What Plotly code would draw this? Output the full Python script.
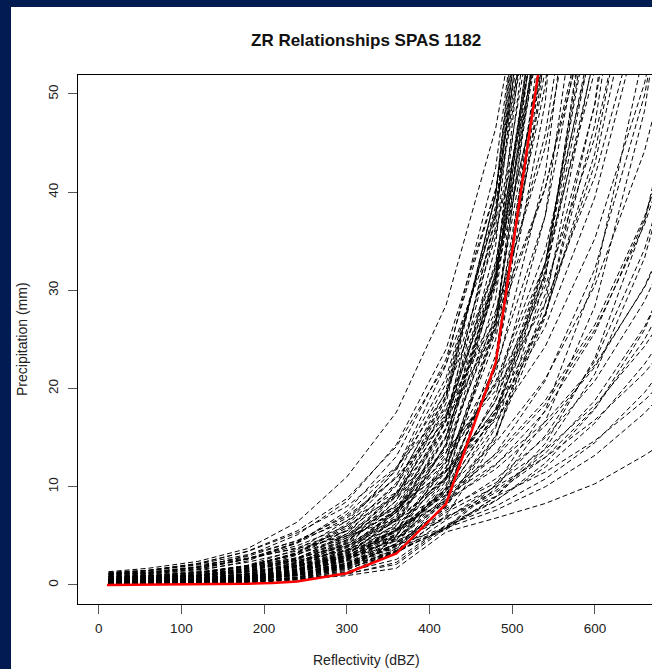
import plotly.graph_objects as go

# ---------------- data ----------------
x_points = [12, 60, 120, 180, 240, 300, 360, 420, 480, 540, 600, 660, 720]

curve_values = [
    # upper, steep early
    [1.35, 1.7, 2.4, 3.7, 6.4, 11.0, 17.6, 28.5, 46.5, 75, 121, 196, 317],
    [1.15, 1.3, 1.8, 3.0, 5.1, 8.5, 14.3, 24.0, 40.3, 67.7, 114, 190, 320],
    [0.95, 1.05, 1.4, 2.45, 4.3, 7.5, 13.1, 23.0, 40.2, 70.4, 123, 215, 377],
    [1.1, 1.2, 1.66, 2.66, 4.25, 6.8, 10.9, 17.4, 27.9, 44.6, 71.3, 114, 183],
    [0.65, 0.7, 0.95, 1.75, 3.24, 6.0, 11.1, 20.5, 38.0, 70.3, 130, 240, 445],
    [1.05, 1.15, 1.6, 2.64, 4.36, 7.2, 11.9, 19.6, 32.3, 53.4, 88, 145, 240],
    [1.3, 1.5, 2.15, 3.44, 5.5, 8.8, 14.1, 22.5, 36.0, 57.7, 92.3, 148, 236],
    # dense core
    [0.6, 0.7, 0.9, 1.37, 2.67, 5.2, 10.1, 19.8, 38.6, 75.2, 147, 286, 558],
    [0.4, 0.45, 0.6, 1.09, 2.24, 4.6, 9.4, 19.3, 39.6, 81.3, 167, 342, 700],
    [0.3, 0.35, 0.5, 0.87, 1.86, 4.0, 8.6, 18.5, 39.8, 85.5, 184, 395, 850],
    [0.3, 0.35, 0.45, 0.72, 1.59, 3.5, 7.7, 16.9, 37.3, 82, 180, 396, 871],
    [0.2, 0.25, 0.35, 0.57, 1.3, 3.0, 6.9, 15.9, 36.5, 84, 193, 444, 1020],
    [0.15, 0.2, 0.25, 0.43, 1.04, 2.5, 6.0, 14.4, 34.6, 83, 199, 478, 1147],
    [0.1, 0.15, 0.2, 0.32, 0.8, 2.0, 5.0, 12.5, 31.3, 78, 195, 488, 1220],
    [0.55, 0.6, 0.75, 1.1, 2.15, 4.2, 8.2, 16.0, 31.2, 60.8, 119, 231, 451],
    [0.35, 0.4, 0.5, 0.76, 1.56, 3.2, 6.6, 13.4, 27.6, 56.5, 116, 238, 487],
    [0.2, 0.25, 0.35, 0.56, 1.21, 2.6, 5.6, 12.0, 25.8, 55.6, 119, 257, 552],
    [0.08, 0.12, 0.2, 0.33, 0.77, 1.8, 4.2, 9.9, 23.4, 55, 129, 303, 713],
    [0.05, 0.1, 0.15, 0.25, 0.61, 1.5, 3.7, 9.0, 22.1, 54, 132, 324, 794],
    [0.8, 0.85, 1.0, 1.64, 3.03, 5.6, 10.4, 19.2, 35.5, 65.6, 121, 225, 416],
    [0.45, 0.5, 0.6, 0.95, 1.9, 3.8, 7.6, 15.2, 30.4, 60.8, 122, 243, 486],
    [0.25, 0.28, 0.35, 0.55, 1.24, 2.8, 6.3, 14.2, 31.9, 71.8, 162, 363, 817],
    [0.2, 0.22, 0.3, 0.42, 0.96, 2.2, 5.06, 11.6, 26.8, 61.6, 142, 326, 750],
    [0.9, 0.95, 1.2, 2.0, 3.6, 6.5, 11.7, 21.1, 37.9, 68.2, 123, 221, 398],
    [0.6, 0.65, 0.8, 1.33, 2.53, 4.8, 9.1, 17.3, 32.9, 62.6, 119, 226, 429],
    [0.28, 0.32, 0.45, 0.77, 1.62, 3.4, 7.1, 15.0, 31.5, 66.1, 139, 292, 613],
    [0.04, 0.06, 0.1, 0.2, 0.5, 1.3, 3.4, 8.8, 22.8, 59, 154, 400, 1040],
    [0.38, 0.42, 0.55, 0.86, 1.76, 3.6, 7.38, 15.1, 31.0, 63.6, 130, 267, 548],
    [0.5, 0.58, 0.75, 1.16, 2.26, 4.4, 8.58, 16.7, 32.6, 63.6, 124, 242, 472],
    [0.18, 0.22, 0.3, 0.45, 1.04, 2.4, 5.52, 12.7, 29.2, 67.2, 155, 356, 818],
    [0.28, 0.32, 0.42, 0.67, 1.44, 3.1, 6.67, 14.3, 30.8, 66.3, 143, 307, 660],
    [0.68, 0.72, 0.9, 1.46, 2.7, 5.0, 9.25, 17.1, 31.7, 58.6, 108, 201, 371],
    [0.1, 0.14, 0.2, 0.33, 0.79, 1.9, 4.56, 10.9, 26.3, 63.0, 151, 363, 871],
    [0.26, 0.3, 0.4, 0.61, 1.29, 2.7, 5.67, 11.9, 25.0, 52.5, 110, 232, 486],
    [0.44, 0.48, 0.6, 0.97, 2.05, 4.3, 9.03, 19.0, 39.8, 83.6, 176, 369, 775],
    [0.27, 0.3, 0.4, 0.65, 1.47, 3.3, 7.43, 16.7, 37.6, 84.6, 190, 428, 963],
    [0.85, 0.9, 1.1, 1.89, 3.31, 5.8, 10.2, 17.8, 31.1, 54.4, 95.2, 167, 292],
    [0.16, 0.2, 0.28, 0.43, 0.95, 2.1, 4.62, 10.2, 22.4, 49.2, 108, 238, 524],
    [0.78, 0.85, 1.0, 1.72, 3.26, 6.2, 11.8, 22.4, 42.5, 80.8, 154, 292, 555],
    [0.5, 0.55, 0.7, 1.08, 2.05, 3.9, 7.41, 14.1, 26.8, 50.9, 96.7, 184, 349],
    [0.07, 0.1, 0.15, 0.27, 0.68, 1.7, 4.25, 10.6, 26.6, 66.4, 166, 415, 1038],
    [0.33, 0.38, 0.5, 0.76, 1.49, 2.9, 5.66, 11.0, 21.5, 41.9, 81.8, 160, 311],
    # medium growth
    [1.2, 1.5, 2.2, 3.4, 5.3, 8.0, 12.0, 18.0, 27.0, 40.5, 60.8, 91, 137],
    [1.1, 1.3, 1.88, 2.91, 4.52, 7.0, 10.9, 16.8, 26.1, 40.4, 62.6, 97, 150],
    [1.05, 1.2, 1.78, 2.67, 4.0, 6.0, 9.0, 13.5, 20.3, 30.4, 45.6, 68.3, 102],
    [0.85, 0.95, 1.22, 1.95, 3.13, 5.0, 8.0, 12.8, 20.5, 32.8, 52.4, 84, 134],
    [0.65, 0.7, 0.92, 1.56, 2.65, 4.5, 7.65, 13.0, 22.1, 37.6, 63.9, 109, 185],
    [1.1, 1.25, 1.81, 2.62, 3.79, 5.5, 8.0, 11.6, 16.8, 24.3, 35.3, 51.1, 74],
    [0.6, 0.7, 0.9, 1.47, 2.42, 4.0, 6.6, 10.9, 18.0, 29.6, 48.9, 80.7, 133],
    [0.45, 0.5, 0.7, 1.14, 2.0, 3.5, 6.1, 10.7, 18.8, 32.8, 57.4, 100, 176],
    [0.35, 0.4, 0.55, 0.93, 1.67, 3.0, 5.4, 9.7, 17.5, 31.5, 56.7, 102, 184],
    [0.85, 0.95, 1.3, 2.0, 3.1, 4.8, 7.4, 11.5, 17.9, 27.7, 42.9, 66.5, 103],
    [0.25, 0.3, 0.4, 0.69, 1.32, 2.5, 4.75, 9.0, 17.1, 32.6, 61.9, 118, 223],
    [0.15, 0.2, 0.3, 0.5, 1.0, 2.0, 4.0, 8.0, 16.0, 32.0, 64, 128, 256],
    [0.55, 0.6, 0.8, 1.31, 2.24, 3.8, 6.5, 11.0, 18.7, 31.7, 54, 91.8, 156],
    [0.1, 0.14, 0.2, 0.36, 0.76, 1.6, 3.36, 7.06, 14.8, 31.1, 65.4, 137, 288],
    [0.32, 0.38, 0.5, 0.82, 1.51, 2.8, 5.18, 9.58, 17.7, 32.8, 60.7, 112, 208],
    [0.7, 0.8, 1.12, 1.9, 3.24, 5.5, 9.35, 15.9, 27.0, 45.9, 78, 133, 226],
    [0.25, 0.3, 0.4, 0.68, 1.33, 2.6, 5.07, 9.89, 19.3, 37.6, 73.3, 143, 279],
    [0.72, 0.8, 1.0, 1.64, 2.63, 4.2, 6.72, 10.8, 17.2, 27.5, 44.0, 70.5, 113],
    [0.45, 0.5, 0.68, 1.14, 1.94, 3.3, 5.61, 9.54, 16.2, 27.6, 46.9, 79.7, 135],
    [0.95, 1.1, 1.54, 2.31, 3.47, 5.2, 7.8, 11.7, 17.6, 26.3, 39.5, 59.2, 88.8],
    [0.33, 0.38, 0.5, 0.8, 1.44, 2.6, 4.68, 8.42, 15.2, 27.3, 49.1, 88.4, 159],
    [1.2, 1.4, 2.13, 3.09, 4.48, 6.5, 9.43, 13.7, 19.8, 28.7, 41.6, 60.4, 87.5],
    [0.24, 0.28, 0.38, 0.61, 1.16, 2.2, 4.18, 7.94, 15.1, 28.7, 54.5, 104, 197],
    [0.62, 0.7, 0.97, 1.5, 2.32, 3.6, 5.58, 8.65, 13.4, 20.8, 32.2, 49.9, 77.4],
    [0.72, 0.8, 1.02, 1.69, 2.79, 4.6, 7.59, 12.5, 20.7, 34.1, 56.3, 92.9, 153],
    # slow growth
    [0.8, 0.9, 1.31, 1.9, 2.76, 4.0, 5.8, 8.4, 12.2, 17.7, 25.7, 37.2, 54],
    [0.55, 0.65, 0.9, 1.33, 2.0, 3.0, 4.5, 6.75, 10.1, 15.2, 22.8, 34.2, 51.3],
    [0.3, 0.38, 0.55, 0.86, 1.38, 2.2, 3.52, 5.63, 9.0, 14.4, 23.1, 37, 59],
    [0.22, 0.28, 0.41, 0.69, 1.18, 2.0, 3.4, 5.78, 9.83, 16.7, 28.4, 48.3, 82],
    [0.85, 0.95, 1.28, 1.79, 2.5, 3.5, 4.9, 6.86, 9.6, 13.4, 18.8, 26.3, 36.9],
    [0.55, 0.65, 0.92, 1.33, 1.93, 2.8, 4.06, 5.89, 8.54, 12.4, 17.9, 26.0, 37.7],
    [0.18, 0.22, 0.36, 0.62, 1.09, 1.9, 3.33, 5.82, 10.2, 17.8, 31.2, 54.6, 95.5],
    [0.4, 0.45, 0.65, 1.0, 1.55, 2.4, 3.72, 5.77, 8.94, 13.9, 21.5, 33.3, 51.6],
    [1.2, 1.45, 2.03, 2.74, 3.7, 5.0, 6.75, 9.1, 12.3, 16.6, 22.4, 30.3, 40.9],
    [0.1, 0.15, 0.3, 0.55, 1.0, 1.8, 3.5, 7.0, 9.0, 11.5, 14.7, 18.8, 24.0],
    [0.15, 0.2, 0.35, 0.65, 1.2, 2.2, 4.2, 7.8, 10.4, 13.8, 18.3, 24.3, 32],
    [0.2, 0.25, 0.45, 0.8, 1.4, 2.6, 4.8, 8.6, 11.8, 16.2, 22.2, 30.4, 41.7],
    [0.25, 0.3, 0.5, 0.85, 1.5, 2.8, 5.2, 9.4, 13.3, 18.8, 26.5, 37.5, 53],
    [0.12, 0.18, 0.3, 0.55, 1.05, 2.0, 3.9, 7.4, 10.0, 13.0, 16.8, 21.6, 27.8],
    [0.15, 0.2, 0.35, 0.6, 1.1, 2.1, 4.0, 7.6, 10.8, 15.0, 20.8, 28.9, 40],
    [0.3, 0.35, 0.55, 0.9, 1.6, 3.0, 5.5, 9.8, 14.5, 21.0, 30.5, 44.2, 64],
    [0.12, 0.16, 0.28, 0.5, 0.95, 1.7, 3.2, 6.6, 9.4, 13.0, 18.0, 25.0, 34.5],
    [0.4, 0.5, 0.7, 1.1, 1.8, 3.2, 5.6, 9.2, 13.0, 18.4, 26.0, 36.7, 52],
    [0.06, 0.1, 0.18, 0.33, 0.6, 1.1, 2.3, 6.0, 8.0, 10.8, 14.5, 19.6, 26.4],
    # lowest
    [0.05, 0.08, 0.15, 0.3, 0.55, 0.95, 1.7, 5.4, 6.8, 8.3, 10.3, 13.2, 16.5],
    [0.08, 0.1, 0.2, 0.35, 0.65, 1.15, 2.1, 5.8, 7.6, 10.0, 13.2, 17.5, 23],
    [0.1, 0.12, 0.22, 0.4, 0.75, 1.35, 2.6, 6.1, 8.6, 12.0, 16.5, 22.5, 30],
]

red_x = [10, 120, 180, 210, 240, 300, 360, 420, 480, 540]
red_y = [0.0, 0.04, 0.12, 0.2, 0.35, 1.2, 3.2, 8.25, 22.6, 57]

x_ticks = [0, 100, 200, 300, 400, 500, 600]
y_ticks = [0, 10, 20, 30, 40, 50]

title_text = "ZR Relationships SPAS 1182"
x_title = "Reflectivity (dBZ)"
y_title = "Precipitation (mm)"

# ---------------- figure ----------------
W, H = 652, 669
L, R, T, B = 78, 0, 75, 65
pw, ph = W - L - R, H - T - B

def px_x(p):
    return (p - L) / pw

def px_y(p):
    return (H - B - p) / ph

FONT = "Liberation Sans, Arial, Helvetica, sans-serif"
NAVY = "#021c52"

fig = go.Figure()
for vals in curve_values:
    fig.add_trace(go.Scatter(
        x=x_points, y=vals, mode="lines",
        line=dict(color="black", width=1, dash="5px,3px"),
        hoverinfo="skip", showlegend=False))

fig.add_trace(go.Scatter(
    x=red_x, y=red_y, mode="lines",
    line=dict(color="#ff0000", width=2.5),
    hoverinfo="skip", showlegend=False))

fig.update_layout(
    width=W, height=H,
    margin=dict(l=L, r=R, t=T, b=B, pad=0),
    paper_bgcolor="white", plot_bgcolor="white",
    showlegend=False,
    font=dict(family=FONT, size=13, color="#222"),
    xaxis=dict(range=[-25, 669], tickvals=x_ticks, ticks="outside",
               ticklen=9, tickcolor="#555", tickwidth=1,
               showline=True, linecolor="black", linewidth=1, mirror=True,
               showgrid=False, zeroline=False, ticklabelstandoff=3,
               tickfont=dict(size=13.5, color="#222")),
    yaxis=dict(range=[-1.94, 51.93], tickvals=y_ticks, ticks="outside",
               ticklen=9, tickcolor="#555", tickwidth=1,
               showline=True, linecolor="black", linewidth=1, mirror=False,
               showgrid=False, zeroline=False, tickangle=-90,
               ticklabelstandoff=5,
               tickfont=dict(size=13.5, color="#222")),
    shapes=[
        dict(type="rect", xref="paper", yref="paper",
             x0=px_x(-2), x1=px_x(11), y0=px_y(H + 2), y1=px_y(-2),
             fillcolor=NAVY, line=dict(width=0), layer="below"),
        dict(type="rect", xref="paper", yref="paper",
             x0=px_x(-2), x1=px_x(W + 2), y0=px_y(7), y1=px_y(-2),
             fillcolor=NAVY, line=dict(width=0), layer="below"),
    ],
    annotations=[
        dict(text="<b>" + title_text + "</b>", xref="paper", yref="paper",
             x=px_x(366), y=px_y(40.5), xanchor="center", yanchor="middle",
             showarrow=False, font=dict(size=17, color="#111", family=FONT)),
        dict(text=x_title, xref="paper", yref="paper",
             x=px_x(366), y=px_y(660), xanchor="center", yanchor="middle",
             showarrow=False, font=dict(size=14, color="#222", family=FONT)),
        dict(text=y_title, xref="paper", yref="paper",
             x=px_x(22), y=px_y(339), xanchor="center", yanchor="middle",
             textangle=-90, showarrow=False,
             font=dict(size=14, color="#222", family=FONT)),
    ],
)

fig.write_html("out.html")
